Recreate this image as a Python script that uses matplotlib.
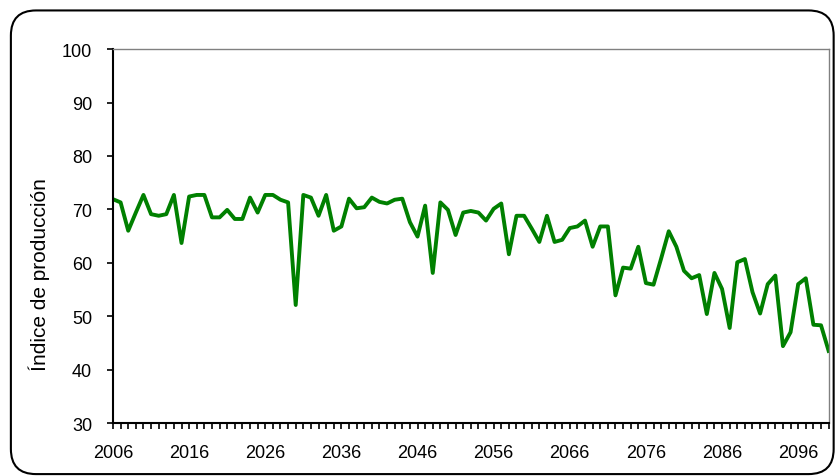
import numpy as np
import matplotlib.pyplot as plt
from matplotlib.patches import FancyBboxPatch

plt.rcParams['font.family'] = ['Liberation Sans', 'DejaVu Sans']

years = list(range(2006, 2101))
produccion = [71.9, 71.3, 66.0, 69.4, 72.7, 69.1, 68.8, 69.1, 72.7, 63.7,
              72.4, 72.7, 72.7, 68.5, 68.5, 69.9, 68.2, 68.2, 72.2, 69.4,
              72.7, 72.7, 71.8, 71.3, 52.1, 72.7, 72.2, 68.8, 72.7, 66.0,
              66.8, 72.0, 70.2, 70.4, 72.2, 71.4, 71.1, 71.8, 72.0, 67.6,
              64.9, 70.7, 58.1, 71.3, 69.9, 65.2, 69.4, 69.7, 69.4, 67.9,
              70.1, 71.1, 61.6, 68.8, 68.8, 66.4, 63.9, 68.8, 63.9, 64.3,
              66.5, 66.8, 67.9, 63.0, 66.8, 66.8, 53.9, 59.1, 58.9, 63.0,
              56.2, 55.9, 60.8, 65.9, 63.0, 58.5, 57.1, 57.7, 50.4, 58.1,
              55.1, 47.8, 60.1, 60.7, 54.5, 50.5, 56.0, 57.6, 44.4, 47.0,
              56.0, 57.1, 48.4, 48.3, 43.5]
x_labels = list(range(2006, 2101, 10))

fig = plt.figure(figsize=(8.37, 4.77), dpi=100)
ax = fig.add_axes([0.135, 0.111, 0.855, 0.784])

ax.plot(years, produccion, color='#008000', linewidth=2.8)

ax.set_xlim(2006, 2100)
ax.set_ylim(30, 100)
ax.set_yticks(range(30, 101, 10))
ax.set_xticks(years, minor=True)
ax.set_xticks(x_labels)
ax.set_xticklabels([str(y) for y in x_labels])
ax.tick_params(axis='both', direction='out', length=4, width=1.2, labelsize=13, colors='black')
ax.tick_params(axis='x', which='minor', direction='out', length=4, width=1.2)
ax.tick_params(axis='x', pad=11)
ax.tick_params(axis='y', pad=11)
ax.set_ylabel('Índice de producción', fontsize=15)
ax.yaxis.set_label_coords(-0.088, 0.40)

for s in ['left', 'bottom']:
    ax.spines[s].set_color('black')
    ax.spines[s].set_linewidth(1.5)
for s in ['top', 'right']:
    ax.spines[s].set_color('#808080')
    ax.spines[s].set_linewidth(1.0)

box = FancyBboxPatch((0.013, 0.004), 0.983, 0.972, boxstyle='round,pad=0,rounding_size=0.03',
                     transform=fig.transFigure, facecolor='none', edgecolor='black',
                     linewidth=1.5, mutation_aspect=837 / 477)
fig.patches.append(box)

plt.savefig('out.png', dpi=100)
